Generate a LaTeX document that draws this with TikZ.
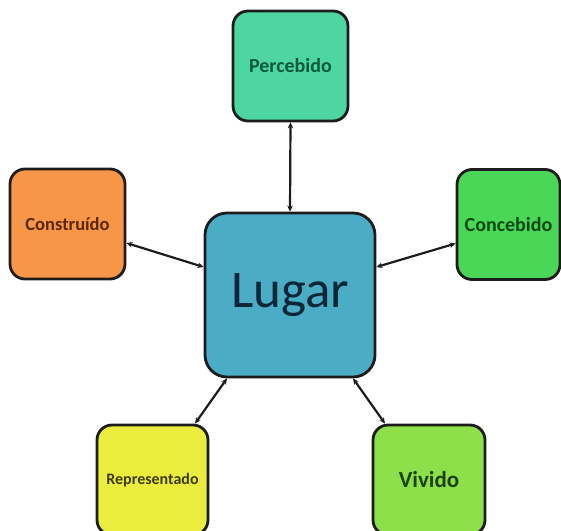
\documentclass[tikz,border=0pt]{standalone}
\usepackage{fontspec}
\setmainfont{Carlito}
\usetikzlibrary{arrows.meta,positioning}
\definecolor{mint}{HTML}{4ED6A2}
\definecolor{mintdark}{HTML}{0C5A3C}
\definecolor{orangebox}{HTML}{F79646}
\definecolor{orangedark}{HTML}{5A2800}
\definecolor{greenbox}{HTML}{4AD656}
\definecolor{greendark}{HTML}{0A4A12}
\definecolor{aqua}{HTML}{4BACC6}
\definecolor{aquadark}{HTML}{0E2638}
\definecolor{yellowbox}{HTML}{EAEC3E}
\definecolor{yellowdark}{HTML}{3C3C00}
\definecolor{limebox}{HTML}{8EE04A}
\definecolor{limedark}{HTML}{1C4210}
\definecolor{edge}{HTML}{1C1C1C}

\begin{document}
\begin{tikzpicture}[
  x=1pt,y=-1pt,
  flow/.style={{Stealth[length=6pt,width=5.5pt]}-{Stealth[length=6pt,width=5.5pt]},line width=2.2pt,draw=edge},
  box/.style={draw=edge,line width=2.8pt,rounded corners=15pt,align=center,inner sep=2pt,
    minimum width=112pt,minimum height=110pt,font=\bfseries}
]
\clip (0,0) rectangle (561,530);
\node[box,fill=aqua,text=aquadark,minimum width=170pt,minimum height=164pt,rounded corners=22pt,
  font=\fontsize{53}{60}\selectfont] (lugar) at (290,295) {Lugar};
\node[box,fill=mint,text=mintdark,minimum width=115pt,
  font=\fontsize{20}{24}\selectfont\bfseries] (perc) at (290.5,66) {Percebido};
\node[box,fill=orangebox,text=orangedark,minimum width=115pt,
  font=\fontsize{18.5}{22}\selectfont\bfseries] (cons) at (67.5,224) {Construído};
\node[box,fill=greenbox,text=greendark,minimum width=103pt,
  font=\fontsize{20}{24}\selectfont\bfseries] (conc) at (508.5,224.5) {Concebido};
\node[box,fill=yellowbox,text=yellowdark,minimum width=111pt,
  font=\fontsize{16}{19}\selectfont\bfseries] (repr) at (152.5,480) {Representado};
\node[box,fill=limebox,text=limedark,
  font=\fontsize{23}{27}\selectfont\bfseries] (viv) at (429,480) {Vivido};
\draw[flow] (perc.south) -- (lugar.north);
\draw[flow] ([yshift=-19pt]cons.east) -- ([yshift=28pt]lugar.west);
\draw[flow] ([yshift=-19pt]conc.west) -- ([yshift=28pt]lugar.east);
\draw[flow] ([xshift=42.5pt]repr.north) -- ([xshift=-63pt]lugar.south);
\draw[flow] ([xshift=-44pt]viv.north) -- ([xshift=63pt]lugar.south);
\end{tikzpicture}
\end{document}
